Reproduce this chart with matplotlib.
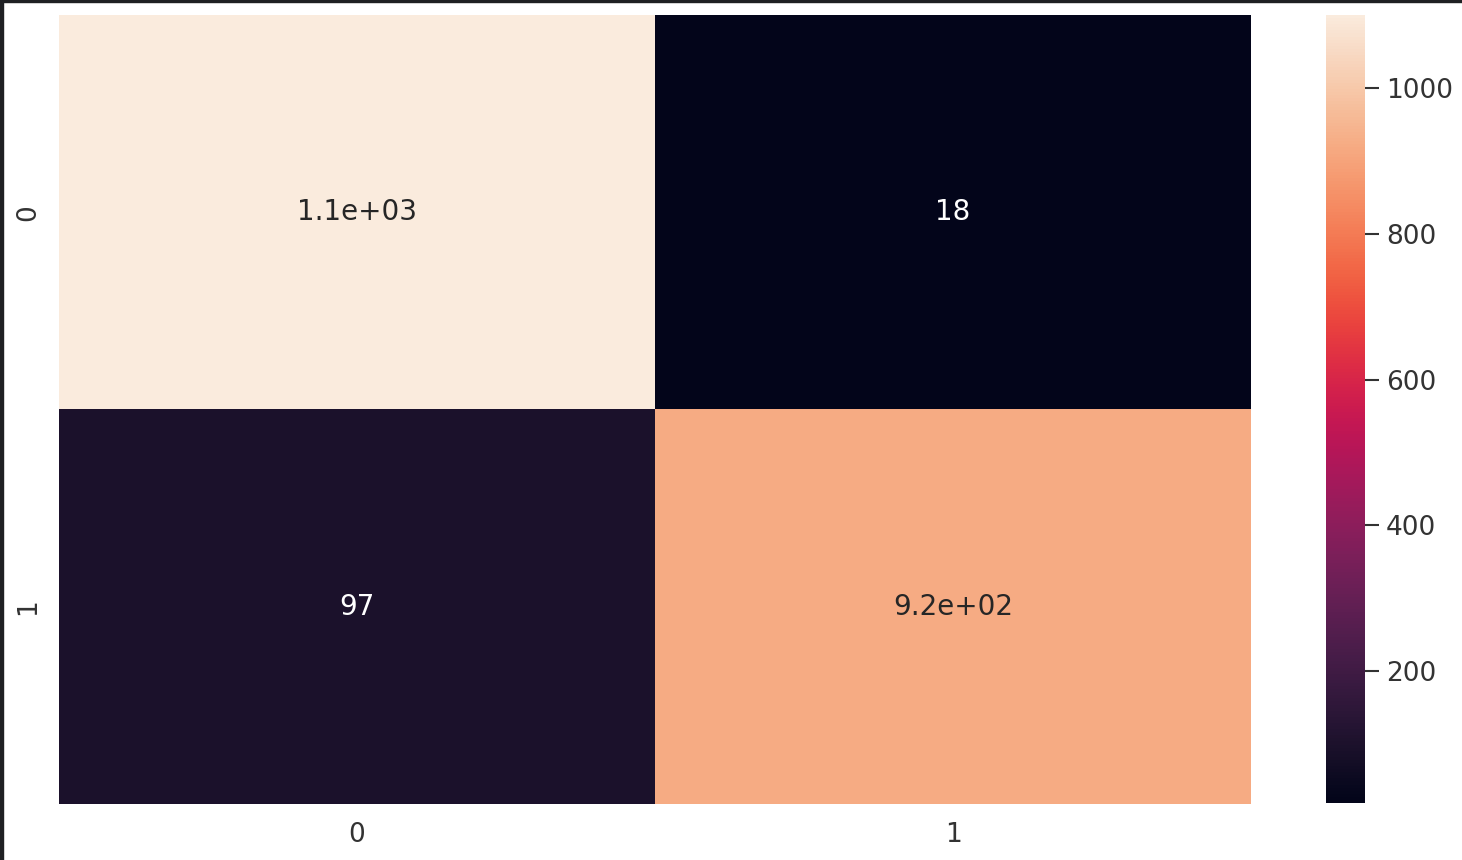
import matplotlib
matplotlib.use("Agg")
import matplotlib.pyplot as plt
import seaborn as sns
import numpy as np
from matplotlib.patches import Rectangle

# confusion matrix values
row0 = [1101, 18]
row1 = [97, 920]
labels = ["0", "1"]

cm = np.array([row0, row1])

fig = plt.figure(figsize=(14.62, 8.6), dpi=100)
ax = fig.add_axes([59/1462, 1-804/860, (1251-59)/1462, (804-15)/860])
cax = fig.add_axes([1326/1462, 1-803/860, 39/1462, (803-15)/860])

sns.heatmap(cm, annot=True, ax=ax, cbar_ax=cax, xticklabels=labels, yticklabels=labels,
            annot_kws={"fontsize": 20})

ax.tick_params(axis="both", length=0, labelsize=19, labelcolor="#333333", pad=13)
cax.tick_params(length=10, width=1.5, color="#333333", labelsize=19, labelcolor="#333333", pad=5)
cax.set_yticks([200, 400, 600, 800, 1000])

# dark strips from the screenshot edge
fig.patches.append(Rectangle((0, 0), 3/1462, 1, transform=fig.transFigure, color="#1f2023", zorder=10))
fig.patches.append(Rectangle((0, 1-2/860), 1, 2/860, transform=fig.transFigure, color="#1f2023", zorder=10))

fig.savefig("out.png", dpi=100)
